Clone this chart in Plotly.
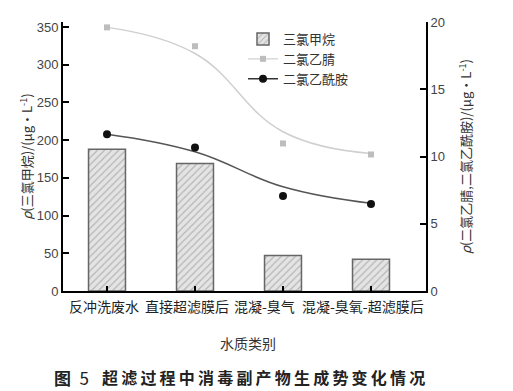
import plotly.graph_objects as go

categories = ["反冲洗废水", "直接超滤膜后", "混凝-臭气", "混凝-臭氧-超滤膜后"]
tcm = [188, 169, 47, 42]                 # 三氯甲烷, left axis
dcan_pts = [19.6, 18.2, 10.97, 10.15]     # 二氯乙腈 points, right axis
dcan_fit = [19.6, 17.66, 11.84, 10.23]    # fitted trend curve
dcacam_pts = [11.66, 10.67, 7.06, 6.46]   # 二氯乙酰胺 points
dcacam_fit = [11.66, 10.35, 7.75, 6.52]   # fitted trend curve
left_ticks = [0, 50, 100, 150, 200, 250, 300, 350]
right_ticks = [0, 5, 10, 15, 20]

# style: horizontal offsets (px) of the category labels as placed in the original
label_shift = [-3, -8, -19, -8]

W, H = 513, 391
L, R, T, B = 63, 426, 22, 291

cjk = "Noto Sans CJK SC"
num = "Liberation Sans"

fig = go.Figure()
fig.add_trace(go.Bar(
    x=categories, y=tcm, name="三氯甲烷", width=0.42, yaxis="y",
    marker=dict(color="#e4e4e4", line=dict(color="#666", width=1.5),
                pattern=dict(shape="/", fgcolor="#888", bgcolor="#e4e4e4", size=5, solidity=0.25)),
))
fig.add_trace(go.Scatter(
    x=categories, y=dcan_fit, yaxis="y2", mode="lines", showlegend=False,
    line=dict(color="#cfcfcf", width=1.5, shape="spline", smoothing=1.2),
))
fig.add_trace(go.Scatter(
    x=categories, y=dcan_pts, yaxis="y2", mode="markers", showlegend=False,
    marker=dict(symbol="square", color="#bdbdbd", size=6),
))
fig.add_trace(go.Scatter(
    x=[None], y=[None], yaxis="y2", mode="lines+markers", name="二氯乙腈",
    line=dict(color="#d8d8d8", width=1.5),
    marker=dict(symbol="square", color="#bdbdbd", size=6),
))
fig.add_trace(go.Scatter(
    x=categories, y=dcacam_fit, yaxis="y2", mode="lines", showlegend=False,
    line=dict(color="#555", width=1.5, shape="spline", smoothing=1.2),
))
fig.add_trace(go.Scatter(
    x=categories, y=dcacam_pts, yaxis="y2", mode="markers", showlegend=False,
    marker=dict(symbol="circle", color="#111", size=8),
))
fig.add_trace(go.Scatter(
    x=[None], y=[None], yaxis="y2", mode="lines+markers", name="二氯乙酰胺",
    line=dict(color="#333", width=1.5),
    marker=dict(symbol="circle", color="#111", size=8),
))

fig.update_layout(
    width=W, height=H,
    margin=dict(l=L, r=W - R, t=T, b=H - B, pad=0, autoexpand=False),
    paper_bgcolor="white", plot_bgcolor="white",
    font=dict(family=cjk, size=13, color="#333"),
    showlegend=True,
    legend=dict(x=(243 - L) / (R - L), y=1 - (24 - T) / (B - T), xanchor="left", yanchor="top",
                bgcolor="rgba(0,0,0,0)", font=dict(family=cjk, size=13, color="#333"),
                tracegroupgap=0, itemwidth=30),
    xaxis=dict(
        showline=True, linecolor="black", linewidth=2, mirror=False,
        ticks="inside", ticklen=5, tickcolor="black", tickwidth=2,
        showticklabels=False,
        showgrid=False, zeroline=False, automargin=False,
    ),
    yaxis=dict(
        range=[0, 356.6], tickvals=left_ticks,
        showline=True, linecolor="black", linewidth=2,
        ticks="inside", ticklen=6, tickcolor="black", tickwidth=2,
        tickfont=dict(family=num, size=13, color="#444"),
        showgrid=False, zeroline=False, automargin=False,
        title=dict(text="<i>ρ</i>(三氯甲烷)/(μg·L<sup>-1</sup>)", font=dict(family=cjk, size=13, color="#333"), standoff=1),
    ),
    yaxis2=dict(
        range=[0, 20], tickvals=right_ticks, overlaying="y", side="right",
        showline=True, linecolor="black", linewidth=2,
        ticks="inside", ticklen=6, tickcolor="black", tickwidth=2,
        tickfont=dict(family=num, size=13, color="#444"),
        showgrid=False, zeroline=False, automargin=False,
        title=dict(text="<i>ρ</i>(二氯乙腈,二氯乙酰胺)/(μg·L<sup>-1</sup>)", font=dict(family=cjk, size=13, color="#333"), standoff=18),
    ),
    bargap=0.5,
)

# category labels under the axis (tick labels)
for cat, dx in zip(categories, label_shift):
    fig.add_annotation(text=cat, x=cat, xref="x", y=0, yref="paper",
                       yshift=-15, xshift=dx, showarrow=False,
                       font=dict(family=cjk, size=14, color="#222"),
                       xanchor="center", yanchor="middle")

fig.add_annotation(text="水质类别", xref="paper", yref="paper",
                   x=(248 - L) / (R - L), y=-(343 - B) / (B - T),
                   showarrow=False, font=dict(family=cjk, size=14, color="#333"),
                   xanchor="center", yanchor="middle")
fig.add_annotation(text="<b>图</b>\u2005\u20055", xref="paper", yref="paper",
                   x=(52 - L) / (R - L), y=-(377 - B) / (B - T),
                   showarrow=False, font=dict(family=cjk, size=17, color="#222"),
                   xanchor="left", yanchor="middle")
fig.add_annotation(text="<b>" + "\u2009".join("超滤过程中消毒副产物生成势变化情况") + "</b>", xref="paper", yref="paper",
                   x=(100 - L) / (R - L), y=-(377 - B) / (B - T),
                   showarrow=False, font=dict(family=cjk, size=16, color="#222"),
                   xanchor="left", yanchor="middle")

fig.write_html("out.html", config={"displayModeBar": False},
               post_script="document.body.style.margin='0';")
